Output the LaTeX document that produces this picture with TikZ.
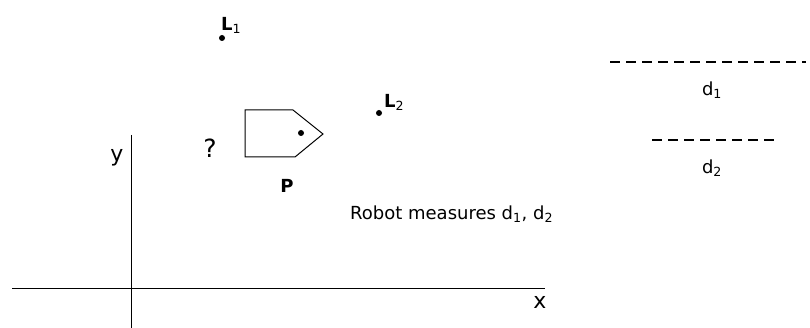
\documentclass[tikz,border=0pt]{standalone}
\usepackage{fontspec}
\setmainfont{DejaVu Sans}
\begin{document}
\begin{tikzpicture}[x=1pt,y=-1pt,
  lbl/.style={inner sep=0pt,font=\fontsize{18}{20}\selectfont},
  dot/.style={circle,fill=black,inner sep=0pt,minimum size=6pt},
  dist/.style={line width=1.8pt,dash pattern=on 10pt off 6pt}]
\useasboundingbox (0,0) rectangle (810,328);
% landmarks
\node[dot] (l1) at (222,38) {};
\node[lbl,anchor=south west] (l1t) at (221,34) {\textbf{L}\textsubscript{1}};
\node[dot] (l2) at (379,113) {};
\node[lbl,anchor=south west] (l2t) at (384,111) {\textbf{L}\textsubscript{2}};
% robot
\coordinate (r1) at (245,110);
\coordinate (r2) at (293,110);
\coordinate (r3) at (323,134);
\coordinate (r4) at (295,157);
\coordinate (r5) at (245,157);
\draw[line width=1pt] (r1) -- (r2) -- (r3) -- (r4) -- (r5) -- cycle;
\node[dot] (rd) at (301,133) {};
\node[lbl,font=\fontsize{25}{28}\selectfont] (q) at (210,148) {?};
\node[lbl] (p) at (287,186) {\textbf{P}};
% axes
\coordinate (xa) at (12,288);
\coordinate (xb) at (545,288);
\coordinate (ya) at (131,135);
\coordinate (yb) at (131,328);
\draw[line width=1pt] (xa) -- (xb);
\draw[line width=1pt] (ya) -- (yb);
\node[lbl,font=\fontsize{22}{24}\selectfont] (xl) at (540,302) {x};
\node[lbl,font=\fontsize{22}{24}\selectfont] (yl) at (117,158) {y};
% text
\node[lbl,anchor=west] (rm) at (350,214) {Robot measures d\textsubscript{1}, d\textsubscript{2}};
% distances
\coordinate (d1a) at (610,62);
\coordinate (d1b) at (806,62);
\draw[dist] (d1a) -- (d1b);
\node[lbl] (d1) at (712,90) {d\textsubscript{1}};
\coordinate (d2a) at (652,140);
\coordinate (d2b) at (775,140);
\draw[dist] (d2a) -- (d2b);
\node[lbl] (d2) at (712,168) {d\textsubscript{2}};
\end{tikzpicture}
\end{document}
